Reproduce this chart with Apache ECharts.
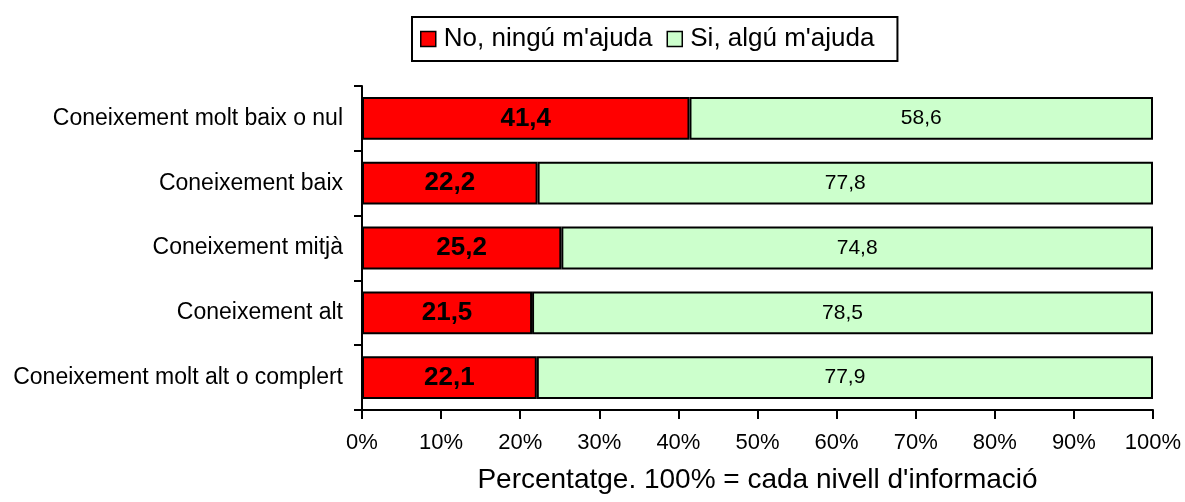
<!DOCTYPE html>
<html>
<head>
<meta charset="utf-8">
<script src="https://cdn.jsdelivr.net/npm/echarts@6/dist/echarts.min.js"></script>
<style>
  html, body { margin: 0; padding: 0; background: #fff; }
  #chart { width: 1185px; height: 502px; }
</style>
</head>
<body>
<div id="chart"></div>
<script>
// Knowledge levels, top to bottom
const categories = [
  "Coneixement molt baix o nul",
  "Coneixement baix",
  "Coneixement mitjà",
  "Coneixement alt",
  "Coneixement molt alt o complert"
];
const noHelp = [41.4, 22.2, 25.2, 21.5, 22.1];
const yesHelp = [58.6, 77.8, 74.8, 78.5, 77.9];
const seriesNames = ["No, ningú m'ajuda", "Si, algú m'ajuda"];
const xTicks = [0, 10, 20, 30, 40, 50, 60, 70, 80, 90, 100];

const font = "'Liberation Sans', Arial, sans-serif";
const fmt = v => v.toFixed(1).replace('.', ',');

const chart = echarts.init(document.getElementById('chart'));
chart.setOption({
  animation: false,
  backgroundColor: '#fff',
  textStyle: { fontFamily: font, color: '#000' },
  legend: {
    top: 17,
    left: 412,
    data: seriesNames,
    icon: 'rect',
    itemWidth: 15,
    itemHeight: 15,
    itemGap: 14,
    itemStyle: { borderColor: '#000', borderWidth: 1.5 },
    borderColor: '#000',
    borderWidth: 2,
    padding: [9, 23, 9, 8],
    textStyle: { fontFamily: font, fontSize: 26, color: '#000', padding: [0, 0, 0, 3] }
  },
  grid: { left: 362, right: 32, top: 86, bottom: 92, containLabel: false },
  xAxis: {
    type: 'value',
    min: xTicks[0],
    max: xTicks[xTicks.length - 1],
    interval: 10,
    name: "Percentatge. 100% = cada nivell d'informació",
    nameLocation: 'middle',
    nameGap: 56,
    nameTextStyle: { fontFamily: font, fontSize: 28, color: '#000' },
    axisLine: { show: true, lineStyle: { color: '#000', width: 2 } },
    axisTick: { show: true, length: 9, lineStyle: { color: '#000', width: 2 } },
    axisLabel: { fontFamily: font, fontSize: 22, color: '#000', margin: 22, formatter: v => v + '%' },
    splitLine: { show: false }
  },
  yAxis: {
    type: 'category',
    data: categories,
    inverse: true,
    axisLine: { show: true, lineStyle: { color: '#000', width: 2 } },
    axisTick: { show: true, length: 8, lineStyle: { color: '#000', width: 2 } },
    axisLabel: { fontFamily: font, fontSize: 23, color: '#000', margin: 19 }
  },
  series: [
    {
      name: seriesNames[0],
      type: 'bar',
      stack: 'total',
      data: noHelp,
      barCategoryGap: '34%',
      itemStyle: { color: '#ff0000', borderColor: '#000', borderWidth: 2 },
      label: {
        show: true, position: 'inside', formatter: p => fmt(p.value),
        fontFamily: font, fontSize: 26, fontWeight: 'bold', color: '#000'
      }
    },
    {
      name: seriesNames[1],
      type: 'bar',
      stack: 'total',
      data: yesHelp,
      barCategoryGap: '34%',
      itemStyle: { color: '#ccffcc', borderColor: '#000', borderWidth: 2 },
      label: {
        show: true, position: 'inside', formatter: p => fmt(p.value),
        fontFamily: font, fontSize: 21, color: '#000'
      }
    }
  ]
});
</script>
</body>
</html>
